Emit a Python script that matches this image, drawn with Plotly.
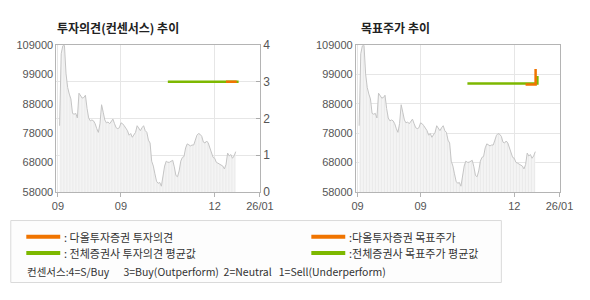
import plotly.graph_objects as go

# ---- data ----
price = [81000, 106000, 108800, 109000, 99000, 94300, 92000, 90300, 85300, 85000,
         85300, 83700, 92300, 91300, 90600, 90800, 91600, 87000, 83700, 82700,
         83000, 82700, 81700, 80000, 78700, 81700, 88300, 85700, 83000, 82000,
         82300, 81700, 82700, 83300, 81700, 80300, 80000, 80300, 82000, 81700,
         81000, 80300, 79300, 77700, 78300, 77000, 77700, 78700, 81000, 80000,
         79300, 80300, 81000, 79300, 78700, 76000, 75000, 68700, 67000, 64300,
         61700, 61000, 61300, 60000, 63300, 67000, 68700, 68300, 68300, 68700,
         69000, 66700, 63700, 63300, 65300, 68700, 70000, 70300, 73300, 74700,
         74300, 74000, 74300, 74300, 76000, 77700, 78300, 78000, 77300, 75300,
         75000, 75700, 75000, 73300, 71700, 70000, 69700, 68300, 68000, 67700,
         67300, 67000, 66000, 67500, 71500, 70500, 71000, 69700, 70500, 72000]
first_day = 2
days = list(range(first_day, first_day + len(price)))

opinion_avg_x = [69, 112.8]
opinion_avg_y = [3, 3]
opinion_daol_x = [105, 111.6]
opinion_daol_y = [3, 3]

target_avg_x = [69, 112.3, 112.3]
target_avg_y = [95700, 95700, 98300]
target_daol_x = [105, 111.2, 111.2]
target_daol_y = [95300, 95300, 100700]

x_range = [0, 126]
x_tickvals = [1, 40, 98, 126]
x_ticktext = ["09", "09", "12", "26/01"]
y_range = [58000, 109000]
y_tickvals = [58000, 68200, 78400, 88600, 98800, 109000]
y_ticktext = ["58000", "68000", "78000", "88000", "99000", "109000"]
op_tickvals = [0, 1, 2, 3, 4]

ORANGE = "#f07400"
GREEN = "#7db800"
W, H = 590, 300


def px(x):
    return x / W


def py(y):
    return 1 - y / H


fig = go.Figure()

price_style = dict(mode="lines", line=dict(color="#c4c4c4", width=1),
                   fill="tozeroy",
                   fillpattern=dict(shape="|", fgcolor="#d6d6d6", bgcolor="white",
                                    size=3, solidity=0.7),
                   hoverinfo="skip", showlegend=False)

# left chart
fig.add_trace(go.Scatter(x=days, y=price, xaxis="x", yaxis="y", **price_style))
fig.add_trace(go.Scatter(x=opinion_avg_x, y=opinion_avg_y, xaxis="x", yaxis="y2",
                         mode="lines", line=dict(color=GREEN, width=2.5), showlegend=False))
fig.add_trace(go.Scatter(x=opinion_daol_x, y=opinion_daol_y, xaxis="x", yaxis="y2",
                         mode="lines", line=dict(color=ORANGE, width=2.5), showlegend=False))
# right chart
fig.add_trace(go.Scatter(x=days, y=price, xaxis="x2", yaxis="y3", **price_style))
fig.add_trace(go.Scatter(x=target_avg_x, y=target_avg_y, xaxis="x2", yaxis="y3",
                         mode="lines", line=dict(color=GREEN, width=2.5), showlegend=False))
fig.add_trace(go.Scatter(x=target_daol_x, y=target_daol_y, xaxis="x2", yaxis="y3",
                         mode="lines", line=dict(color=ORANGE, width=2.5), showlegend=False))

tickfont = dict(family="Liberation Sans, Arial, sans-serif", size=11, color="#555555")
LINE = "#b4b4b4"
GRID = "#e6e6e6"

xcommon = dict(range=x_range, tickmode="array", tickvals=x_tickvals, ticktext=x_ticktext,
               showline=True, linecolor=LINE, mirror=True, showgrid=True, gridcolor=GRID,
               ticks="outside", ticklen=4, tickcolor=LINE, tickfont=tickfont,
               zeroline=False, fixedrange=True)
ydom = [py(194), py(40)]

fig.update_layout(
    width=W, height=H, margin=dict(l=0, r=0, t=0, b=0),
    paper_bgcolor="white", plot_bgcolor="white",
    xaxis=dict(domain=[px(54), px(264)], anchor="y", **xcommon),
    xaxis2=dict(domain=[px(363), px(573)], anchor="y3", **xcommon),
    yaxis=dict(domain=ydom, anchor="x", range=y_range, tickmode="array",
               tickvals=y_tickvals, ticktext=y_ticktext, showgrid=False,
               showline=True, linecolor=LINE, ticks="", tickfont=tickfont,
               zeroline=False),
    yaxis2=dict(domain=ydom, anchor="x", overlaying="y", side="right", range=[0, 4],
                tickmode="array", tickvals=op_tickvals, showgrid=True, gridcolor=GRID,
                showline=True, linecolor=LINE, ticks="inside", ticklen=4, tickcolor="#aaaaaa",
                tickfont=dict(family="Liberation Sans, Arial, sans-serif", size=12, color="#555555"),
                zeroline=False),
    yaxis3=dict(domain=ydom, anchor="x2", range=y_range, tickmode="array",
                tickvals=y_tickvals, ticktext=y_ticktext, showgrid=True, gridcolor=GRID,
                showline=True, linecolor=LINE, mirror=True, ticks="", tickfont=tickfont,
                zeroline=False),
)

TITLE_FONT = dict(family="Noto Sans CJK KR", size=12, color="#222222")
fig.add_annotation(x=px(53), y=py(21), xref="paper", yref="paper", xanchor="left",
                   yanchor="middle", showarrow=False, text="<b>투자의견(컨센서스) 추이</b>",
                   font=TITLE_FONT)
fig.add_annotation(x=px(366), y=py(21), xref="paper", yref="paper", xanchor="left",
                   yanchor="middle", showarrow=False, text="<b>목표주가 추이</b>",
                   font=TITLE_FONT)

# legend box
fig.add_shape(type="rect", xref="paper", yref="paper", x0=px(7), x1=px(513),
              y0=py(289), y1=py(224), line=dict(color="#dadada", width=1),
              fillcolor="#fdfdfd", layer="below")
LEG_FONT = dict(family="Noto Sans CJK KR", size=11, color="#333333")
legend_items = [
    (23, 241, ORANGE, ": 다올투자증권 투자의견"),
    (23, 258, GREEN, ": 전체증권사 투자의견 평균값"),
    (317, 241, ORANGE, ":다올투자증권 목표주가"),
    (317, 258, GREEN, ":전체증권사 목표주가 평균값"),
]
for x0, yy, col, txt in legend_items:
    fig.add_shape(type="line", xref="paper", yref="paper", x0=px(x0), x1=px(x0 + 35),
                  y0=py(yy), y1=py(yy), line=dict(color=col, width=4))
    fig.add_annotation(x=px(x0 + 37), y=py(yy), xref="paper", yref="paper",
                       xanchor="left", yanchor="middle", showarrow=False, text=txt,
                       font=LEG_FONT)
fig.add_annotation(x=px(22), y=py(277), xref="paper", yref="paper", xanchor="left",
                   yanchor="middle", showarrow=False,
                   text="컨센서스:4=S/Buy&nbsp;&nbsp;&nbsp;&nbsp;&nbsp; 3=Buy(Outperform)&nbsp; 2=Neutral&nbsp;&nbsp; 1=Sell(Underperform)",
                   font=dict(family="Noto Sans CJK KR", size=10.5, color="#333333"))

fig.write_html("out.html")
